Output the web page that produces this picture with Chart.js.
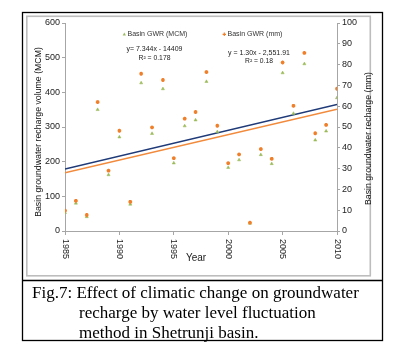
<!DOCTYPE html>
<html>
<head>
<meta charset="utf-8">
<script src="https://cdn.jsdelivr.net/npm/chart.js@4"></script>
<style>
  html, body { margin: 0; padding: 0; background: #fff; }
  #wrap { position: relative; width: 398px; height: 357px; overflow: hidden; }
  #c { position: absolute; left: 0; top: 0; }
  .cap { position: absolute; font-family: "Liberation Serif", "Times New Roman", serif; font-size: 17px; color: #000; white-space: pre; line-height: 20px; }
</style>
</head>
<body>
<div id="wrap">
  <canvas id="c" width="398" height="357"></canvas>
  <div class="cap" style="left:32px; top:283px;">Fig.7: Effect of climatic change on groundwater</div>
  <div class="cap" style="left:79px; top:303px;">recharge by water level fluctuation</div>
  <div class="cap" style="left:79px; top:323px;">method in Shetrunji basin.</div>
</div>
<script>
// ---- data ----
const years = [1985,1986,1987,1988,1989,1990,1991,1992,1993,1994,1995,1996,1997,1998,1999,2000,2001,2002,2003,2004,2005,2006,2007,2008,2009,2010];
const gwrMCM = [53,80,41,350,162,271,77,427,281,410,196,303,320,431,286,183,205,22,220,194,456,339,482,262,288,384];
const gwrMM = [9.8,14.5,7.7,62,29,48.2,14,75.6,49.8,72.6,35,54,57.2,76.4,50.6,32.6,36.8,4.0,39.4,34.7,81,60.2,85.6,47,51,68.4];
const trendYears = [1985, 2010];
const trendMCM = [179, 365];
const trendMM = [28, 58.5];
const xTicks = [1985, 1990, 1995, 2000, 2005, 2010];
const seriesNames = ["Basin GWR (MCM)", "Basin GWR (mm)"];
const eqMCM = ["y= 7.344x - 14409", "R\u00b2 = 0.178"];
const eqMM = ["y = 1.30x - 2,551.91", "R\u00b2 = 0.18"];

const GREEN = '#9bbb59', ORANGE = '#f07f2a', BLUE = '#1f3a78', ORANGE_LINE = '#f28a3c';
const AXIS = '#a6a6a6';
const FONT = '"Liberation Sans", Arial, sans-serif';

function fitText(ctx, text, targetW, baseSize, weight) {
  ctx.font = (weight || '') + ' ' + baseSize + 'px ' + FONT;
  const w = ctx.measureText(text).width;
  const s = baseSize * targetW / w;
  ctx.font = (weight || '') + ' ' + s.toFixed(2) + 'px ' + FONT;
}

const decor = {
  id: 'decor',
  beforeDraw(chart) {
    const ctx = chart.ctx;
    ctx.save();
    ctx.fillStyle = '#fff';
    ctx.fillRect(0, 0, chart.width, chart.height);
    ctx.strokeStyle = '#000'; ctx.lineWidth = 1.3;
    ctx.strokeRect(22.5, 12.5, 360, 328);
    ctx.beginPath(); ctx.moveTo(22, 280.5); ctx.lineTo(383, 280.5); ctx.stroke();
    ctx.strokeStyle = '#bdbdbd'; ctx.lineWidth = 1.6;
    ctx.strokeRect(26.8, 16.3, 343.5, 259.5);
    ctx.restore();
  },
  afterDraw(chart) {
    const ctx = chart.ctx;
    const xs = chart.scales.x;
    const yb = chart.chartArea.bottom;
    ctx.save();
    ctx.fillStyle = '#222';
    ctx.font = '9px ' + FONT;
    ctx.textAlign = 'left'; ctx.textBaseline = 'middle';
    xTicks.forEach(v => {
      const px = xs.getPixelForValue(v);
      ctx.save();
      ctx.translate(px, yb + 8);
      ctx.rotate(Math.PI / 2);
      ctx.fillText(String(v), 0, 0);
      ctx.restore();
    });
    ctx.fillStyle = '#1a1a1a';
    ctx.font = '10px ' + FONT;
    ctx.textAlign = 'center';
    ctx.fillText('Year', 196, 258);
    ctx.save();
    ctx.translate(38.5, 132);
    ctx.rotate(-Math.PI / 2);
    fitText(ctx, 'Basin groundwater recharge volume (MCM)', 170, 9);
    ctx.fillStyle = '#111';
    ctx.textAlign = 'center'; ctx.textBaseline = 'middle';
    ctx.fillText('Basin groundwater recharge volume (MCM)', 0, 0);
    ctx.restore();
    ctx.save();
    ctx.translate(369, 138.5);
    ctx.rotate(-Math.PI / 2);
    fitText(ctx, 'Basin groundwater recharge (mm)', 133, 9);
    ctx.fillStyle = '#111';
    ctx.textAlign = 'center'; ctx.textBaseline = 'middle';
    ctx.fillText('Basin groundwater recharge (mm)', 0, 0);
    ctx.restore();
    ctx.textBaseline = 'middle'; ctx.textAlign = 'left';
    ctx.fillStyle = '#333';
    fitText(ctx, seriesNames[0], 60, 9);
    ctx.fillText(seriesNames[0], 127.5, 34.3);
    fitText(ctx, seriesNames[1], 55, 9);
    ctx.fillText(seriesNames[1], 227.5, 34.3);
    ctx.fillStyle = GREEN;
    ctx.beginPath(); ctx.moveTo(124.3, 32.6); ctx.lineTo(125.9, 35.6); ctx.lineTo(122.7, 35.6); ctx.closePath(); ctx.fill();
    ctx.strokeStyle = ORANGE; ctx.lineWidth = 1.2;
    ctx.beginPath(); ctx.moveTo(222.6, 34.3); ctx.lineTo(226, 34.3); ctx.moveTo(224.3, 32.6); ctx.lineTo(224.3, 36); ctx.stroke();
    ctx.fillStyle = '#222';
    ctx.textAlign = 'center';
    fitText(ctx, eqMCM[0], 56, 9);
    ctx.fillText(eqMCM[0], 154.5, 49);
    fitText(ctx, eqMCM[1], 32, 9);
    ctx.fillText(eqMCM[1], 154.5, 58);
    fitText(ctx, eqMM[0], 62, 9);
    ctx.fillText(eqMM[0], 259, 52.7);
    fitText(ctx, eqMM[1], 28, 9);
    ctx.fillText(eqMM[1], 259, 61);
    ctx.restore();
  }
};

const pts = (xs, ys) => xs.map((x, i) => ({ x: x, y: ys[i] }));

new Chart(document.getElementById('c'), {
  type: 'scatter',
  data: {
    datasets: [
      { type: 'line', label: 'trend MCM', data: pts(trendYears, trendMCM), yAxisID: 'y', borderColor: BLUE, borderWidth: 1.5, pointRadius: 0, fill: false, order: 3 },
      { type: 'line', label: 'trend mm', data: pts(trendYears, trendMM), yAxisID: 'y2', borderColor: ORANGE_LINE, borderWidth: 1.5, pointRadius: 0, fill: false, order: 2 },
      { label: seriesNames[0], data: pts(years, gwrMCM), yAxisID: 'y', pointStyle: 'triangle', pointRadius: 1.8, backgroundColor: GREEN, borderColor: GREEN, borderWidth: 0.5, order: 1 },
      { label: seriesNames[1], data: pts(years, gwrMM), yAxisID: 'y2', pointStyle: 'star', pointRadius: 1.9, backgroundColor: ORANGE, borderColor: ORANGE, borderWidth: 1.2, order: 0 }
    ]
  },
  options: {
    responsive: false,
    animation: false,
    events: [],
    layout: { padding: { top: 23, left: 0, right: 0, bottom: 0 } },
    plugins: { legend: { display: false }, tooltip: { enabled: false }, title: { display: false } },
    scales: {
      x: {
        type: 'linear', min: 1985, max: 2010,
        afterBuildTicks: s => { s.ticks = xTicks.map(v => ({ value: v })); },
        ticks: { display: false },
        grid: { drawOnChartArea: false, drawTicks: true, tickLength: 4, color: AXIS },
        border: { color: AXIS, width: 1 },
        afterFit: s => { s.height = 126; }
      },
      y: {
        position: 'left', min: 0, max: 600,
        ticks: { stepSize: 100, font: { family: FONT, size: 9 }, color: '#222', padding: 2 },
        grid: { drawOnChartArea: false, drawTicks: true, tickLength: 3, color: AXIS },
        border: { color: AXIS, width: 1 },
        afterFit: s => { s.width = 65; }
      },
      y2: {
        position: 'right', min: 0, max: 100,
        ticks: { stepSize: 10, font: { family: FONT, size: 9 }, color: '#222', padding: 2 },
        grid: { drawOnChartArea: false, drawTicks: true, tickLength: 3, color: AXIS },
        border: { color: AXIS, width: 1 },
        afterFit: s => { s.width = 61; }
      }
    }
  },
  plugins: [decor]
});
</script>
</body>
</html>
